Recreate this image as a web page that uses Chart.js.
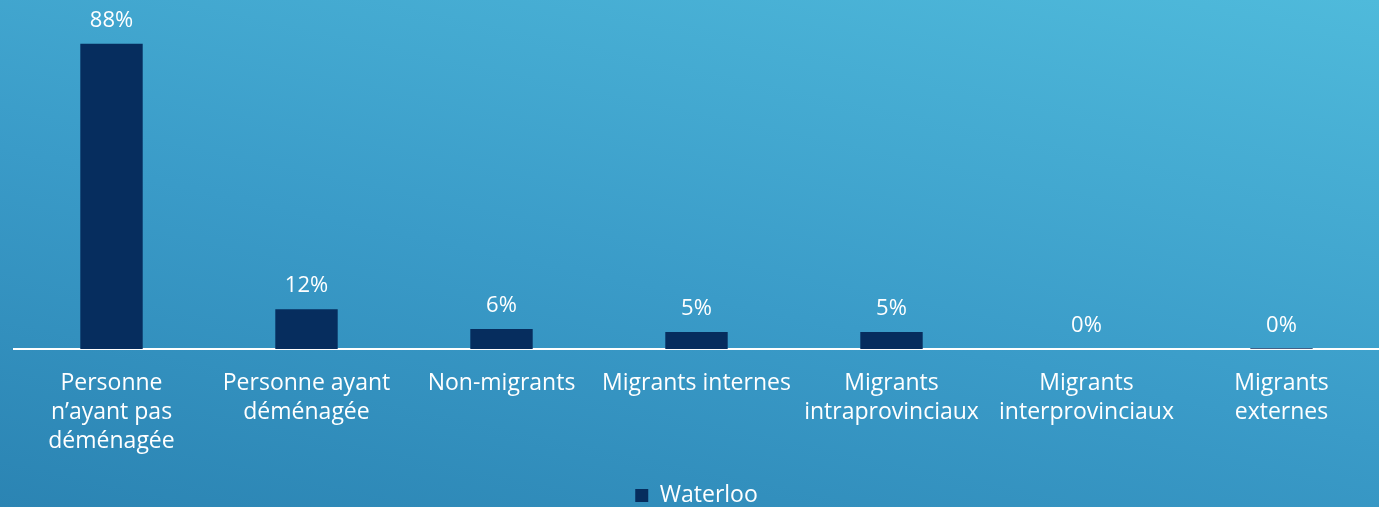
<!DOCTYPE html>
<html>
<head>
<meta charset="utf-8">
<script src="https://cdn.jsdelivr.net/npm/chart.js@4"></script>
<style>
  html, body { margin: 0; padding: 0; }
  #wrap {
    width: 1379px;
    height: 507px;
    background: linear-gradient(12deg, #2b84b3 0%, #3a9bc8 45%, #4fbadb 100%);
  }
</style>
</head>
<body>
<div id="wrap"><canvas id="myChart"></canvas></div>
<script>
const categories = [
  ["Personne", "n’ayant pas", "déménagée"],
  ["Personne ayant", "déménagée"],
  "Non-migrants",
  "Migrants internes",
  ["Migrants", "intraprovinciaux"],
  ["Migrants", "interprovinciaux"],
  ["Migrants", "externes"],
];
const waterloo = [88, 11.5, 5.8, 4.9, 4.9, 0, 0.2];
const seriesName = "Waterloo";

const FONT = "'Open Sans', sans-serif";

// draws the % over each bar
const valueLabels = {
  id: "valueLabels",
  afterDatasetsDraw(chart) {
    const ctx = chart.ctx;
    const meta = chart.getDatasetMeta(0);
    ctx.save();
    ctx.fillStyle = "#ffffff";
    ctx.font = "22px " + FONT;
    ctx.textAlign = "center";
    ctx.textBaseline = "bottom";
    meta.data.forEach((bar, i) => {
      ctx.fillText(Math.round(waterloo[i]) + "%", bar.x, bar.y - 12);
    });
    ctx.restore();
  },
};

const ctx = document.getElementById("myChart").getContext("2d");
new Chart(ctx, {
  type: "bar",
  data: {
    labels: categories,
    datasets: [
      {
        label: seriesName,
        data: waterloo,
        backgroundColor: "#062d5e",
        borderWidth: 0,
        categoryPercentage: 0.8,
        barPercentage: 0.4,
      },
    ],
  },
  options: {
    responsive: true,
    maintainAspectRatio: false,
    animation: false,
    layout: { padding: { left: 14, right: 0, top: 2, bottom: -10 } },
    scales: {
      x: {
        grid: { display: false, drawTicks: false },
        border: { display: true, color: "#ffffff", width: 2 },
        ticks: {
          color: "#ffffff",
          font: { family: FONT, size: 23, lineHeight: 1.26 },
          padding: 20,
          maxRotation: 0,
          autoSkip: false,
        },
      },
      y: {
        display: false,
        min: 0,
        max: 100,
      },
    },
    plugins: {
      legend: {
        position: "bottom",
        labels: {
          color: "#ffffff",
          font: { family: FONT, size: 23 },
          boxWidth: 13,
          boxHeight: 13,
          padding: 8,
        },
      },
      tooltip: { enabled: false },
    },
  },
  plugins: [valueLabels],
});
</script>
</body>
</html>
